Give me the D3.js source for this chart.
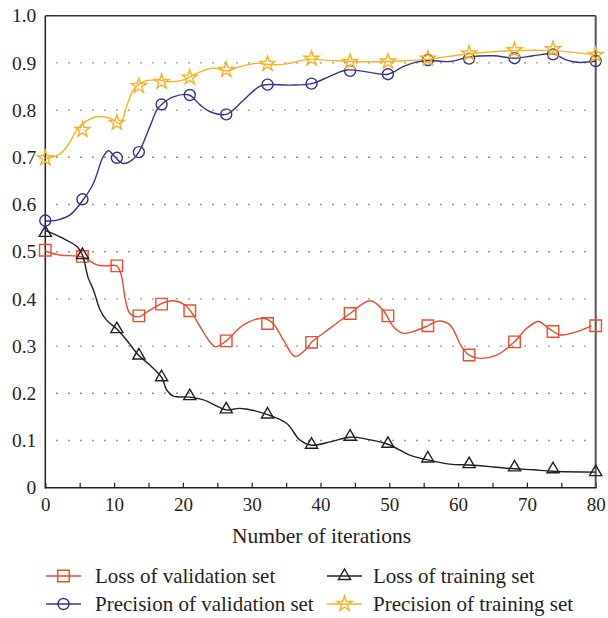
<!DOCTYPE html>
<html>
<head>
<meta charset="utf-8">
<script src="https://cdn.jsdelivr.net/npm/d3@7"></script>
<style>
  html, body { margin: 0; padding: 0; background: #fff; }
  svg { display: block; }
  text { font-family: "Liberation Serif", "Times New Roman", serif; fill: #231f20; }
</style>
</head>
<body>
<svg id="chart" width="608" height="618"></svg>
<script>
// ---------------- data ----------------
const iterations = [0, 5.4, 10.4, 13.6, 16.9, 21.0, 26.3, 32.3, 38.7, 44.3, 49.8, 55.6, 61.6, 68.2, 73.8, 80];

const lossValidation   = [0.503, 0.490, 0.470, 0.364, 0.389, 0.375, 0.311, 0.348, 0.308, 0.369, 0.364, 0.343, 0.281, 0.309, 0.331, 0.343];
const lossTraining     = [0.540, 0.493, 0.336, 0.280, 0.234, 0.194, 0.166, 0.155, 0.091, 0.108, 0.093, 0.062, 0.050, 0.043, 0.039, 0.033];
const precValidation   = [0.566, 0.611, 0.699, 0.711, 0.812, 0.832, 0.791, 0.854, 0.856, 0.883, 0.876, 0.906, 0.909, 0.910, 0.918, 0.904];
const precTraining     = [0.698, 0.758, 0.773, 0.851, 0.860, 0.869, 0.885, 0.898, 0.909, 0.902, 0.903, 0.909, 0.920, 0.927, 0.929, 0.917];

// smoothed line traces (iteration, value)
const lossValidationLine = [[0,0.501],[2.1,0.493],[5.4,0.489],[7.5,0.472],[8.9,0.470],[10.4,0.470],[11.1,0.447],[11.6,0.401],[12.3,0.369],[13.5,0.362],[15.2,0.376],[17.2,0.392],[18.6,0.396],[20.3,0.387],[21.5,0.366],[22.5,0.341],[24.7,0.299],[26.3,0.311],[28.8,0.345],[31.7,0.359],[33.1,0.348],[34.6,0.313],[36.3,0.278],[38.0,0.295],[38.7,0.308],[41.4,0.338],[44.3,0.369],[47.2,0.396],[49.1,0.376],[50.6,0.341],[52.0,0.327],[53.5,0.331],[55.6,0.343],[57.1,0.353],[58.8,0.345],[60.5,0.299],[61.6,0.281],[63.2,0.274],[65.6,0.281],[68.2,0.309],[70.0,0.338],[71.7,0.352],[73.1,0.338],[74.8,0.324],[76.7,0.328],[79.4,0.343]];
const lossTrainingLine = [[0,0.545],[2.6,0.528],[4.6,0.511],[5.4,0.493],[6.25,0.444],[7.0,0.419],[7.95,0.377],[8.9,0.355],[10.4,0.336],[11.8,0.313],[13.6,0.280],[15.2,0.260],[16.9,0.234],[17.65,0.207],[18.6,0.194],[20.9,0.192],[23.0,0.186],[26.3,0.165],[28.3,0.168],[32.3,0.155],[35.1,0.136],[37.0,0.101],[38.7,0.090],[41.4,0.097],[44.3,0.107],[46.7,0.103],[49.8,0.092],[53.0,0.069],[55.6,0.059],[58.8,0.050],[61.6,0.048],[65.1,0.044],[68.2,0.040],[70.9,0.038],[73.8,0.035],[80,0.033]];
const precValidationLine = [[0,0.565],[1.7,0.567],[3.6,0.578],[5.5,0.610],[7.0,0.645],[8.4,0.701],[9.2,0.714],[10.1,0.701],[11.3,0.687],[12.6,0.694],[13.6,0.711],[15.2,0.765],[16.2,0.800],[16.9,0.812],[18.6,0.828],[20.9,0.832],[22.5,0.811],[23.9,0.797],[26.3,0.791],[28.8,0.821],[31.2,0.851],[32.3,0.854],[35.6,0.853],[38.7,0.856],[41.4,0.872],[43.8,0.885],[46.7,0.881],[49.8,0.876],[52.0,0.892],[53.5,0.900],[55.6,0.905],[58.8,0.903],[61.5,0.912],[65.1,0.915],[68.2,0.910],[70.9,0.915],[73.8,0.919],[75.8,0.906],[77.7,0.901],[80,0.904]];
const precTrainingLine = [[0,0.698],[1.9,0.705],[3.1,0.722],[4.6,0.758],[5.5,0.772],[7.5,0.786],[9.4,0.783],[10.9,0.772],[11.8,0.807],[12.8,0.843],[14.2,0.860],[16.2,0.864],[18.1,0.860],[20.1,0.864],[22.5,0.881],[24.4,0.889],[26.4,0.883],[28.3,0.892],[30.7,0.899],[32.7,0.896],[35.1,0.898],[37.5,0.906],[39.0,0.908],[41.4,0.905],[44.3,0.903],[50.1,0.903],[53.0,0.905],[55.6,0.908],[61.5,0.919],[68.2,0.926],[73.8,0.926],[80,0.917]];

const seriesNames = ["Loss of validation set", "Loss of training set", "Precision of validation set", "Precision of training set"];
const xTicks = [0,5,10,15,20,25,30,35,40,45,50,55,60,65,70,75,80];
const xLabels = [0,10,20,30,40,50,60,70,80];
const yTicks = [0,0.1,0.2,0.3,0.4,0.5,0.6,0.7,0.8,0.9,1.0];
const yTickLabels = ["0","0.1","0.2","0.3","0.4","0.5","0.6","0.7","0.8","0.9","1.0"];
const xTitle = "Number of iterations";

// ---------------- layout ----------------
const svg = d3.select("#chart");
const L = 45.3, R = 595.7, T = 15.7, B = 487.7;
const x = d3.scaleLinear().domain([0, 80]).range([L, R]);
const y = d3.scaleLinear().domain([0, 1]).range([B, T]);

const colors = { red: "#ee4a2c", black: "#231f20", blue: "#33338f", yellow: "#fbb21f" };

// grid lines (dotted)
svg.append("g").selectAll("line")
  .data(yTicks.filter(v => v > 0 && v < 1))
  .join("line")
  .attr("x1", L + 11).attr("x2", R - 8)
  .attr("y1", d => y(d)).attr("y2", d => y(d))
  .attr("stroke", "#6d6d6d").attr("stroke-width", 1.4)
  .attr("stroke-dasharray", "1.4,10.6");

// y axis labels
const yAxis = d3.axisLeft(y).tickValues(yTicks).tickSize(0).tickPadding(9)
  .tickFormat((d, i) => yTickLabels[i]);
const gy = svg.append("g").attr("transform", `translate(${L},0)`).call(yAxis);
gy.select(".domain").remove();
gy.selectAll("text").attr("font-size", 19.5).attr("font-family", "Liberation Serif").attr("fill", "#231f20");

// x axis
const xAxis = d3.axisBottom(x).tickValues(xTicks).tickSize(-5).tickPadding(10)
  .tickFormat(d => xLabels.includes(d) ? d : "");
const gx = svg.append("g").attr("transform", `translate(0,${B})`).call(xAxis);
gx.select(".domain").remove();
gx.selectAll("line").attr("stroke", "#231f20").attr("stroke-width", 1.2);
gx.selectAll("text").attr("font-size", 19).attr("font-family", "Liberation Serif").attr("fill", "#231f20");

// frame
svg.append("line").attr("x1", L).attr("x2", R).attr("y1", T).attr("y2", T).attr("stroke", "#333").attr("stroke-width", 1.5);
svg.append("line").attr("x1", R).attr("x2", R).attr("y1", T).attr("y2", B).attr("stroke", "#555").attr("stroke-width", 2);
svg.append("line").attr("x1", L).attr("x2", L).attr("y1", T).attr("y2", B + 0.75).attr("stroke", "#231f20").attr("stroke-width", 1.5);
svg.append("line").attr("x1", L).attr("x2", R + 1).attr("y1", B).attr("y2", B).attr("stroke", "#231f20").attr("stroke-width", 1.5);

// axis title
svg.append("text").attr("x", (L + R) / 2 + 1).attr("y", 535).attr("dy", "0.35em")
  .attr("text-anchor", "middle").attr("font-size", 21.5).text(xTitle);

// ---------------- series ----------------
const sym = {
  square: d3.symbol().type(d3.symbolSquare).size(132),
  triangle: d3.symbol().type(d3.symbolTriangle).size(64),
  circle: d3.symbol().type(d3.symbolCircle).size(95),
  star: d3.symbol().type(d3.symbolStar).size(70)
};

const series = [
  { name: seriesNames[0], vals: lossValidation, line: lossValidationLine, color: colors.red, shape: "square" },
  { name: seriesNames[1], vals: lossTraining, line: lossTrainingLine, color: colors.black, shape: "triangle" },
  { name: seriesNames[2], vals: precValidation, line: precValidationLine, color: colors.blue, shape: "circle" },
  { name: seriesNames[3], vals: precTraining, line: precTrainingLine, color: colors.yellow, shape: "star" }
];

const lineGen = d3.line().x(d => x(d[0])).y(d => y(d[1])).curve(d3.curveCatmullRom.alpha(0.5));

series.forEach(s => {
  svg.append("path").datum(s.line).attr("d", lineGen)
    .attr("fill", "none").attr("stroke", s.color).attr("stroke-width", 1.4);
  svg.append("g").selectAll("path")
    .data(s.vals.map((v, i) => [iterations[i], v]))
    .join("path")
    .attr("d", sym[s.shape]())
    .attr("transform", d => `translate(${x(d[0])},${y(d[1])})`)
    .attr("fill", "none").attr("stroke", s.color).attr("stroke-width", 1.4);
});

// ---------------- legend ----------------
const legendPos = [
  { lx: 46, tx: 95, ly: 576 },
  { lx: 327, tx: 373, ly: 576 },
  { lx: 46, tx: 95, ly: 604 },
  { lx: 327, tx: 373, ly: 604 }
];
series.forEach((s, i) => {
  const p = legendPos[i];
  const g = svg.append("g");
  g.append("line").attr("x1", p.lx).attr("x2", p.lx + 35).attr("y1", p.ly).attr("y2", p.ly)
    .attr("stroke", s.color).attr("stroke-width", 1.4);
  g.append("path").attr("d", sym[s.shape]())
    .attr("transform", `translate(${p.lx + 17.5},${p.ly})`)
    .attr("fill", "none").attr("stroke", s.color).attr("stroke-width", 1.4);
  g.append("text").attr("x", p.tx).attr("y", p.ly).attr("dy", "0.33em")
    .attr("font-size", 21).text(s.name);
});
</script>
</body>
</html>
